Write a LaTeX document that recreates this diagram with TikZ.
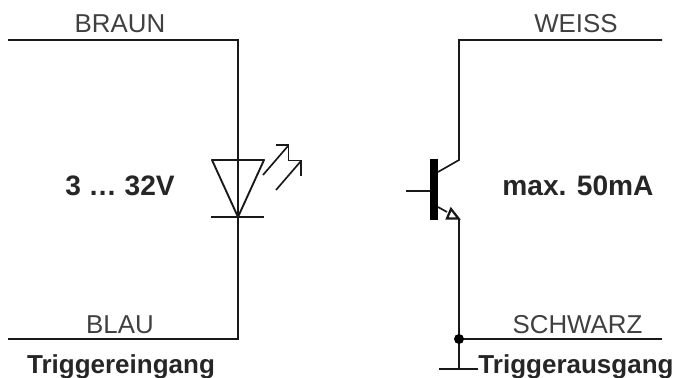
\documentclass[tikz,border=0pt]{standalone}
\usepackage{fontspec}
\setmainfont{Liberation Sans}
\tikzset{wire/.style={line width=1.25pt,black!90},
 lab/.style={font=\fontsize{19.4}{21}\selectfont,text=black!75,inner sep=0pt,anchor=base},
 blab/.style={font=\fontsize{19.5}{21}\selectfont\bfseries,text=black!85,inner sep=0pt,anchor=base},
 bigb/.style={font=\fontsize{21.1}{23}\selectfont\bfseries,text=black!85,inner sep=0pt,anchor=base}}
\begin{document}
\begin{tikzpicture}[x=0.75pt,y=-0.75pt]
\useasboundingbox (0,0) rectangle (676,378);
\fill[white] (0,0) rectangle (676,378);
\coordinate (a1) at (8,40); \coordinate (a2) at (238,40); \coordinate (a3) at (238,339); \coordinate (a4) at (8,339);
\draw[wire] (a1) -- (a2) -- (a3) -- (a4);
\draw[wire,line join=round,line width=1.4pt] (212,160) -- (264,160) -- (238,217) -- cycle;
\draw[wire] (211,217) -- (264,217);
\draw[wire] (263,175) -- (288,146);
\draw[wire] (276,145) -- (288.5,145) -- (288.5,160.5) -- (301,160.5) -- (301,176);
\draw[wire] (276,190) -- (301,161);
\node[lab] (braun) at (120,33) {BRAUN};
\node[lab] (blau) at (120,333) {BLAU};
\node[bigb] (v) at (120,196) {3 … 32V};
\node[blab] (te) at (121,373.5) {Triggereingang};
\fill[black] (430,159) rectangle (438,220);
\coordinate (b) at (406,191); \coordinate (bb) at (430,191);
\draw[wire] (b) -- (bb);
\draw[wire] (438,172) -- (459,160) -- (459,40) -- (662,40);
\draw[wire] (438,207) -- (447,212);
\draw[wire,line join=miter,line width=1.7pt] (451,209) -- (447,218.5) -- (458.5,218.5) -- cycle;
\coordinate (j) at (459,339);
\draw[wire] (459,219) -- (j) -- (459,369);
\draw[wire] (j) -- (662,339);
\fill[black] (j) circle (5);
\coordinate (t1) at (439,369); \coordinate (t2) at (478,369);
\draw[wire] (t1) -- (t2);
\node[lab] (w) at (576,33) {WEISS};
\node[lab] (s) at (577.5,333) {SCHWARZ};
\node[bigb] (m) at (578,196) {max. 50mA};
\node[blab] (ta) at (576,373.5) {Triggerausgang};
\end{tikzpicture}
\end{document}
